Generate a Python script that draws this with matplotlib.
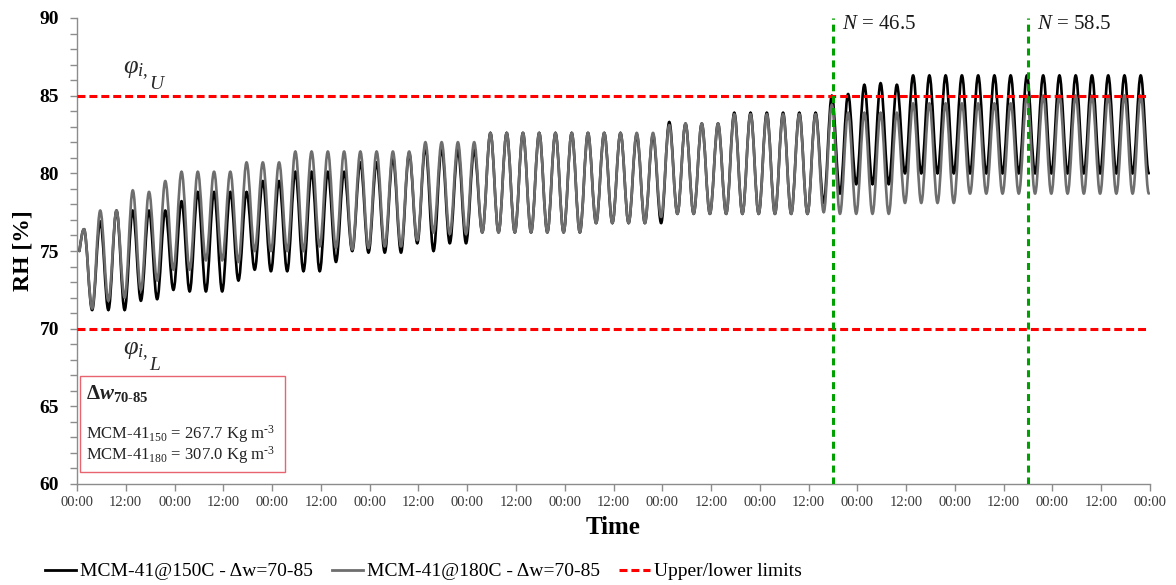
import matplotlib
matplotlib.use("Agg")
import matplotlib.pyplot as plt
import matplotlib.ticker as mticker
from matplotlib.path import Path
from matplotlib.patches import PathPatch, Rectangle
from matplotlib.lines import Line2D
import numpy as np

plt.rcParams["font.family"] = ["Liberation Serif", "DejaVu Serif"]
plt.rcParams["mathtext.fontset"] = "custom"
plt.rcParams["mathtext.rm"] = "Liberation Serif"
plt.rcParams["mathtext.it"] = "Liberation Serif:italic"
plt.rcParams["mathtext.bf"] = "Liberation Serif:bold"
plt.rcParams["mathtext.bfit"] = "Liberation Serif:italic:bold"

# ---------------------------------------------------------------------------
# Data: one peak and one trough per 4 h cycle
# ---------------------------------------------------------------------------
CYCLE_H = 4.0            # length of one humidity cycle [h]
PEAK_PHASE = 0.43        # position of the peak inside a cycle
TROUGH_PHASE = 0.93      # position of the trough inside a cycle
START_PHASE = 0.15
START_RH = 75.0

black_peaks = [76.4, 76.9, 77.6, 77.6, 77.6, 77.6, 78.2, 78.8, 78.8, 78.8,
               78.8, 79.5, 79.5, 80.1, 80.1, 80.1, 80.1, 80.7, 80.7, 81.0,
               81.3, 81.7, 81.6, 81.5, 81.5, 82.6, 82.6, 82.6, 82.6, 82.6,
               82.6, 82.6, 82.6, 82.6, 82.5, 82.5, 83.3, 83.2, 83.2, 83.2,
               83.9, 83.9, 83.9, 83.9, 83.9, 83.9, 85.0, 85.1, 85.7, 85.8,
               85.7, 86.3, 86.3, 86.3, 86.3, 86.3, 86.3, 86.3, 86.3, 86.3,
               86.3, 86.3, 86.3, 86.3, 86.3, 86.3]
black_troughs = [71.2, 71.2, 71.2, 71.8, 71.9, 72.5, 72.4, 72.4, 72.4, 73.1,
                 73.8, 73.7, 73.7, 73.7, 73.7, 74.3, 75.0, 74.9, 74.9, 74.9,
                 75.5, 75.0, 75.5, 75.5, 76.2, 76.2, 76.2, 76.2, 76.2, 76.2,
                 76.2, 76.8, 76.8, 76.8, 76.8, 76.8, 77.4, 77.4, 77.4, 77.4,
                 77.4, 77.4, 77.4, 77.4, 77.4, 78.1, 78.7, 79.3, 79.3, 79.3,
                 80.0, 80.0, 80.0, 80.0, 80.0, 80.0, 80.0, 80.0, 80.0, 80.0,
                 80.0, 80.0, 80.0, 80.0, 80.0, 80.0]
gray_peaks = [76.4, 77.6, 77.6, 78.9, 78.8, 79.5, 80.1, 80.1, 80.1, 80.1,
              80.7, 80.7, 80.7, 81.4, 81.4, 81.4, 81.4, 81.4, 81.4, 81.4,
              81.4, 82.0, 82.0, 82.0, 82.0, 82.6, 82.6, 82.6, 82.6, 82.6,
              82.6, 82.6, 82.6, 82.6, 82.6, 82.6, 83.1, 83.2, 83.2, 83.2,
              83.8, 83.8, 83.8, 83.8, 83.8, 83.8, 84.4, 83.9, 83.9, 83.9,
              83.9, 84.5, 84.5, 84.5, 84.5, 84.5, 84.5, 84.5, 85.0, 85.0,
              85.0, 85.0, 85.0, 85.0, 85.0, 85.0]
gray_troughs = [71.3, 71.8, 72.0, 72.5, 73.1, 73.8, 73.8, 74.4, 74.4, 74.3,
                75.0, 75.0, 75.0, 75.0, 75.3, 75.2, 75.1, 75.2, 75.3, 75.3,
                75.7, 76.2, 76.1, 76.1, 76.2, 76.2, 76.2, 76.2, 76.2, 76.2,
                76.2, 76.8, 76.8, 76.8, 76.8, 77.2, 77.4, 77.4, 77.4, 77.4,
                77.4, 77.4, 77.4, 77.4, 77.4, 77.5, 77.4, 77.4, 77.4, 77.4,
                78.1, 78.1, 78.1, 78.1, 78.7, 78.7, 78.7, 78.7, 78.7, 78.7,
                78.7, 78.7, 78.7, 78.7, 78.7, 78.7]

LIMIT_UPPER = 85.0
LIMIT_LOWER = 70.0
N_MARKS = [46.5, 58.5]          # cycle numbers marked by the green lines
N_DAYS = 11
x_ticklabels = ["00:00", "12:00"] * N_DAYS + ["00:00"]

label_150 = "MCM-41@150C - \u0394w=70-85"
label_180 = "MCM-41@180C - \u0394w=70-85"
label_lim = "Upper/lower limits"
HY = "\u2010"   # typographic hyphen (mathtext would turn "-" into a minus)


def cycle_path(peaks, troughs):
    """Smooth path through the extrema (horizontal tangent at each one)."""
    n = len(peaks)
    t = [START_PHASE * CYCLE_H]
    v = [START_RH]
    for k in range(n):
        t += [(k + PEAK_PHASE) * CYCLE_H, (k + TROUGH_PHASE) * CYCLE_H]
        v += [peaks[k], troughs[k]]
    verts = [(t[0], v[0])]
    codes = [Path.MOVETO]
    for i in range(1, len(t)):
        dt = t[i] - t[i - 1]
        if i == 1:
            c1 = (t[0] + dt / 3, v[0] + (v[1] - v[0]) / 2)
        else:
            c1 = (t[i - 1] + 0.36 * dt, v[i - 1])
        c2 = (t[i] - 0.36 * dt, v[i])
        verts += [c1, c2, (t[i], v[i])]
        codes += [Path.CURVE4] * 3
    return Path(verts, codes)


fig = plt.figure(figsize=(11.76, 5.85), dpi=100)
ax = fig.add_axes([77 / 1176, 1 - 484 / 585, (1150 - 77) / 1176, (484 - 18) / 585])

BLACK = "#000000"
GRAY = "#6E6E6E"
RED_DASH = (0, (2.6, 1.3))

ax.add_patch(PathPatch(cycle_path(black_peaks, black_troughs), fill=False,
                       edgecolor=BLACK, lw=1.9, zorder=3, capstyle="round"))
ax.add_patch(PathPatch(cycle_path(gray_peaks, gray_troughs), fill=False,
                       edgecolor=GRAY, lw=1.9, zorder=4, capstyle="round"))

x_end = N_DAYS * 24
ax.axhline(LIMIT_UPPER, color="#FF0000", lw=2.2, ls=RED_DASH, zorder=5)
ax.axhline(LIMIT_LOWER, color="#FF0000", lw=2.2, ls=RED_DASH, zorder=5)
for n in N_MARKS:
    ax.axvline(n * CYCLE_H, color="#00A000", lw=2.2, ls=(0, (2.3, 1.6)), zorder=6)
    ax.text(n * CYCLE_H + 2.3, 89.55, f"$N$ = {n}", fontsize=15, va="center",
            ha="left", color="#1a1a1a")

# limit symbols: phi with "i," subscript, then the U / L letter set lower
for y_phi, letter in [(86.6, "U"), (68.5, "L")]:
    ax.text(11.2, y_phi, r"$\varphi_{i,}$", fontsize=19, va="center",
            ha="left", color="#2a2a2a")
    ax.text(17.8, y_phi - 0.85, f"${letter}$", fontsize=14, va="center",
            ha="left", color="#2a2a2a")

ax.set_xlim(0, x_end)
ax.set_ylim(60, 90)
ax.set_xticks(np.arange(0, x_end + 1, 12))
ax.set_xticklabels(x_ticklabels, fontsize=10.5, color="#3a3a3a")
ax.yaxis.set_major_locator(mticker.MultipleLocator(5))
ax.yaxis.set_minor_locator(mticker.MultipleLocator(1))
for lbl in ax.get_yticklabels():
    lbl.set_fontweight("bold")
    lbl.set_fontsize(14)

for s in ["top", "right"]:
    ax.spines[s].set_visible(False)
for s in ["left", "bottom"]:
    ax.spines[s].set_color("#8c8c8c")
    ax.spines[s].set_linewidth(1.0)
ax.tick_params(axis="both", which="both", direction="out", length=5,
               width=1.0, color="#8c8c8c")
ax.tick_params(axis="y", which="major", labelsize=14, pad=8)
ax.tick_params(axis="x", pad=4)

ax.set_ylabel("RH [%]", fontsize=17, fontweight="bold", labelpad=4)
ax.set_xlabel("Time", fontsize=18, fontweight="bold", labelpad=5)

# info box
box = Rectangle((0.003, 0.026), 0.191, 0.206, transform=ax.transAxes,
                fill=False, edgecolor="#E8646E", lw=1.0, zorder=7)
ax.add_patch(box)
ax.text(0.008, 0.195, r"$\mathbf{\Delta}\mathbfit{w}_{\mathbf{70" + HY + "85}}$",
        transform=ax.transAxes, fontsize=15, va="center", ha="left", color="#222222")
ax.text(0.008, 0.107, r"MCM-41$_{150}$ = 267.7 Kg m$^{" + HY + "3}$",
        transform=ax.transAxes, fontsize=12, va="center", ha="left", color="#222222")
ax.text(0.008, 0.062, r"MCM-41$_{180}$ = 307.0 Kg m$^{" + HY + "3}$",
        transform=ax.transAxes, fontsize=12, va="center", ha="left", color="#222222")

handles = [
    Line2D([], [], color=BLACK, lw=2.0),
    Line2D([], [], color=GRAY, lw=2.0),
    Line2D([], [], color="#FF0000", lw=2.2, ls=RED_DASH),
]
fig.legend(handles, [label_150, label_180, label_lim], loc="lower center",
           bbox_to_anchor=(0.36, -0.022), ncol=3, frameon=False, fontsize=14,
           handlelength=1.6, handletextpad=0.2, columnspacing=1.0)

fig.savefig("out.png", dpi=100)
